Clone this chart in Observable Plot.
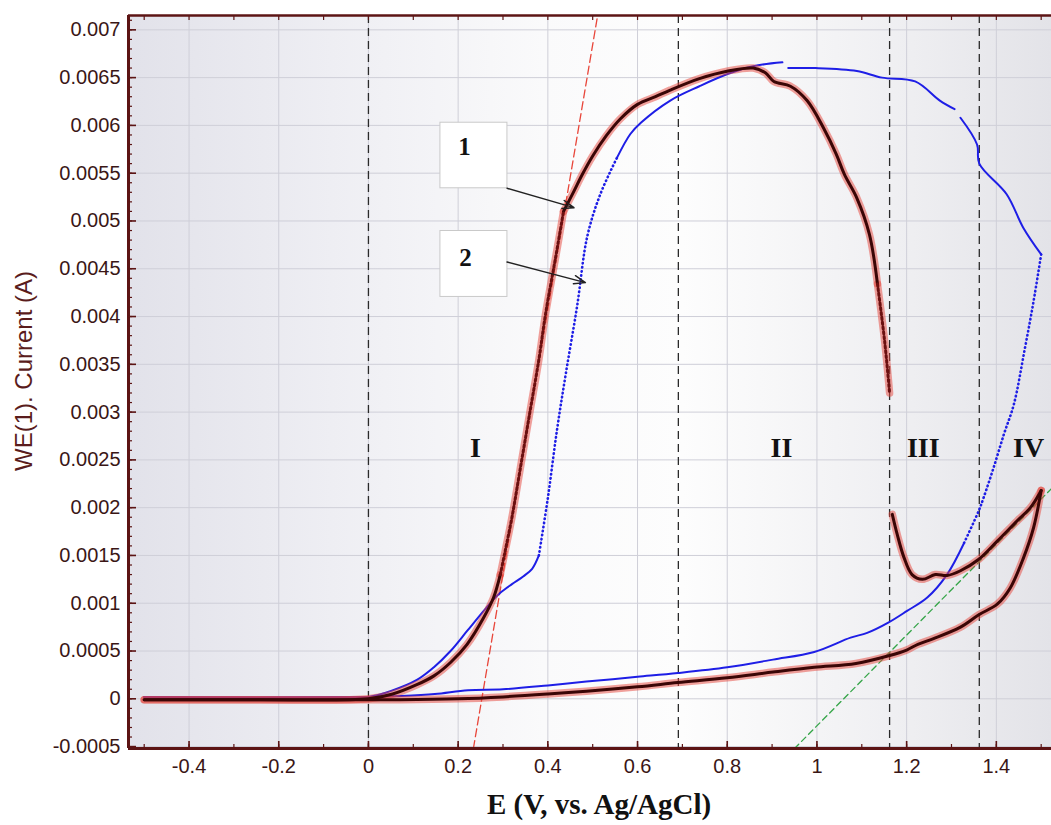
<!DOCTYPE html>
<html>
<head>
<meta charset="utf-8">
<script src="https://cdn.jsdelivr.net/npm/d3@7"></script>
<script src="https://cdn.jsdelivr.net/npm/@observablehq/plot@0.6"></script>
<style>
  body { margin: 0; background: #fff; }
  #chart svg { display: block; }
</style>
</head>
<body>
<div id="chart"></div>
<script>
// Axis extents and tick values
const xDomain = [-0.535, 1.523];
const yDomain = [-0.00052, 0.00715];
const xTickValues = [-0.4, -0.2, 0, 0.2, 0.4, 0.6, 0.8, 1, 1.2, 1.4];
const yTickValues = [-0.0005, 0, 0.0005, 0.001, 0.0015, 0.002, 0.0025, 0.003, 0.0035,
  0.004, 0.0045, 0.005, 0.0055, 0.006, 0.0065, 0.007];
const xTitle = "E (V, vs. Ag/AgCl)";
const yTitle = "WE(1). Current (A)";

// Curve 1 (E, I) — forward sweep then return sweep
const c1Start = [[-0.5, -0.00001], [-0.25, -0.00001], [0, 0], [0.054, 0.00005], [0.109, 0.00015],
  [0.146, 0.00024], [0.183, 0.00038], [0.22, 0.00057], [0.257, 0.00085], [0.279, 0.00106], [0.294, 0.0013]];
const c1Steep = [[0.294, 0.0013], [0.305, 0.00155], [0.32, 0.0019], [0.34, 0.00245], [0.36, 0.003],
  [0.38, 0.00355], [0.395, 0.00403], [0.417, 0.00461], [0.435, 0.0051]];
const c1Top = [[0.435, 0.0051], [0.458, 0.00531], [0.475, 0.00547], [0.5, 0.00568], [0.53, 0.00589],
  [0.562, 0.00607], [0.6, 0.00622], [0.64, 0.0063], [0.673, 0.00637], [0.738, 0.00649], [0.802, 0.00657],
  [0.858, 0.0066], [0.885, 0.00655], [0.904, 0.00646], [0.941, 0.00641], [0.978, 0.00626], [1.015, 0.00597],
  [1.043, 0.0057], [1.061, 0.00549], [1.089, 0.00524], [1.117, 0.00486], [1.135, 0.00434]];
const c1Drop = [[1.135, 0.00434], [1.151, 0.00374], [1.162, 0.0032]];
const c1Film = [[1.168, 0.00193], [1.179, 0.00172], [1.194, 0.00148], [1.212, 0.0013], [1.235, 0.00125],
  [1.264, 0.0013], [1.29, 0.00129], [1.32, 0.00134], [1.361, 0.00146], [1.402, 0.00165], [1.446, 0.00186],
  [1.476, 0.002], [1.5, 0.00218]];
const c1Return = [[1.5, 0.00218], [1.483, 0.00179], [1.461, 0.00148], [1.431, 0.00116], [1.402, 0.00099],
  [1.361, 0.00088], [1.32, 0.00075], [1.26, 0.00063], [1.225, 0.00057], [1.2, 0.00051], [1.16, 0.00045],
  [1.087, 0.00037], [0.994, 0.00033], [0.902, 0.00028], [0.8, 0.00022], [0.69, 0.00017], [0.6, 0.000126],
  [0.486, 0.00008], [0.4, 0.00005], [0.3, 0.00002], [0.2, 0], [0.07, -0.00001], [0, -0.00001], [-0.5, -0.00001]];

// Curve 2 (E, I)
const c2Start = [[-0.5, 0.00002], [0, 0.00002], [0.049, 0.00008], [0.109, 0.0002], [0.146, 0.00033],
  [0.183, 0.0005], [0.22, 0.00071], [0.257, 0.00092], [0.279, 0.00104], [0.294, 0.00111], [0.32, 0.0012],
  [0.345, 0.00128], [0.365, 0.00136], [0.38, 0.0015]];
const c2Steep = [[0.38, 0.0015], [0.4, 0.0021], [0.42, 0.0028], [0.44, 0.0034], [0.465, 0.0041],
  [0.488, 0.00484], [0.517, 0.00528], [0.554, 0.00566]];
const c2Top = [[0.554, 0.00566], [0.584, 0.00591], [0.608, 0.00603], [0.673, 0.00626], [0.738, 0.00641],
  [0.802, 0.00654], [0.858, 0.00662], [0.923, 0.00666]];
const c2Plateau = [[0.936, 0.0066], [0.997, 0.0066], [1.089, 0.00657], [1.145, 0.0065], [1.219, 0.00646],
  [1.274, 0.00626], [1.307, 0.00617]];
const c2Decay = [[1.32, 0.00608], [1.357, 0.0058], [1.362, 0.0056], [1.423, 0.00528], [1.46, 0.00493],
  [1.5, 0.00465]];
const c2Fall = [[1.5, 0.00465], [1.483, 0.00416], [1.463, 0.00365], [1.439, 0.00308], [1.417, 0.00277],
  [1.394, 0.00242], [1.372, 0.00211], [1.361, 0.00197], [1.327, 0.00162]];
const c2Return = [[1.327, 0.00162], [1.29, 0.0013], [1.246, 0.00106], [1.201, 0.00092], [1.16, 0.0008],
  [1.112, 0.00069], [1.075, 0.00064], [0.994, 0.00049], [0.902, 0.00041], [0.8, 0.00033], [0.69, 0.00027],
  [0.6, 0.00023], [0.486, 0.00018], [0.4, 0.00014], [0.3, 0.0001], [0.222, 0.00009], [0.148, 0.00005],
  [0.074, 0.00003], [0, 0.00002], [-0.5, 0.00002]];

// Tangent constructions
const tangentRise = [[0.234, -0.00052], [0.511, 0.00715]];
const tangentFilm = [[0.95, -0.00052], [1.523, 0.0022]];

// Potential regions
const regionBounds = [0, 0.691, 1.162, 1.362];
const regionNames = ["I", "II", "III", "IV"];
const regionCenters = [0.2386, 0.921, 1.237, 1.472];
const regionLabelY = 0.00262;

// Curve callouts
const calloutNames = ["1", "2"];
const calloutBoxX = [0.1605, 0.3099];
const calloutBoxY = [[0.005342, 0.006028], [0.004205, 0.004895]];
const calloutTextAt = [[0.214, 0.005769], [0.2163, 0.004616]];
const calloutArrowFrom = [[0.309, 0.005342], [0.309, 0.004571]];
const calloutArrowTo = [[0.4583, 0.005139], [0.4838, 0.004355]];

// Build rows
const rows = (pts, seg) => pts.map(([x, y]) => ({x, y, seg}));
const curve1Solid = [...rows(c1Start, "a"), ...rows(c1Top, "c"), ...rows(c1Film, "e"), ...rows(c1Return, "f")];
const curve1Dotted = [...rows(c1Steep, "b"), ...rows(c1Drop, "d")];
const curve1All = [...curve1Solid, ...curve1Dotted];
const curve2Solid = [...rows(c2Start, "a"), ...rows(c2Top, "c"), ...rows(c2Plateau, "d"),
  ...rows(c2Decay, "e"), ...rows(c2Return, "g")];
const curve2Dotted = [...rows(c2Steep, "b"), ...rows(c2Fall, "f")];

const regions = regionNames.map((name, i) => ({name, x: regionCenters[i], y: regionLabelY}));
const callouts = calloutNames.map((name, i) => ({
  name,
  x1: calloutBoxX[0], x2: calloutBoxX[1], y1: calloutBoxY[i][0], y2: calloutBoxY[i][1],
  tx: calloutTextAt[i][0], ty: calloutTextAt[i][1],
  ax1: calloutArrowFrom[i][0], ay1: calloutArrowFrom[i][1],
  ax2: calloutArrowTo[i][0], ay2: calloutArrowTo[i][1]
}));

const xMinorTicks = d3.range(-5, 16).map(i => i / 10);
const yMinorTicks = d3.range(-5, 72).map(i => i / 10000);
const fmt = d => String(+d.toFixed(4));
const axisColor = "#5c1414";
const serif = "'Liberation Serif', 'Times New Roman', serif";

const chart = Plot.plot({
  width: 1051,
  height: 825,
  marginLeft: 128,
  marginRight: 0,
  marginTop: 15,
  marginBottom: 77,
  x: {domain: xDomain, label: null},
  y: {domain: yDomain, label: null},
  style: {
    fontFamily: "'Liberation Sans', Arial, sans-serif",
    fontSize: "20px",
    color: "#3a1616",
    background: "#fff"
  },
  marks: [
    Plot.frame({fill: "url(#plotBg)"}),
    Plot.gridX(xTickValues, {stroke: "#cfcfd8", strokeOpacity: 1}),
    Plot.gridY(yTickValues, {stroke: "#cfcfd8", strokeOpacity: 1}),
    Plot.ruleX(regionBounds, {stroke: "#2a2a2a", strokeWidth: 1.3, strokeDasharray: "8,5"}),
    Plot.line(tangentRise, {x: d => d[0], y: d => d[1], stroke: "#e8463a", strokeWidth: 1.3, strokeDasharray: "8,4"}),
    Plot.line(tangentFilm, {x: d => d[0], y: d => d[1], stroke: "#35a548", strokeWidth: 1.3, strokeDasharray: "6,4"}),
    // curve 2
    Plot.line(curve2Solid, {x: "x", y: "y", z: "seg", stroke: "#1e1ee6", strokeWidth: 2, curve: "catmull-rom"}),
    Plot.line(curve2Dotted, {x: "x", y: "y", z: "seg", stroke: "#1e1ee6", strokeWidth: 2.6,
      strokeLinecap: "round", strokeDasharray: "0.5,3.6", curve: "catmull-rom"}),
    // curve 1: red glow under a dark core
    Plot.line(curve1All, {x: "x", y: "y", z: "seg", stroke: "#e6443a", strokeOpacity: 0.5, strokeWidth: 7.5, curve: "catmull-rom"}),
    Plot.line(curve1Solid, {x: "x", y: "y", z: "seg", stroke: "#3a0606", strokeWidth: 3, curve: "catmull-rom"}),
    Plot.line(curve1Dotted, {x: "x", y: "y", z: "seg", stroke: "#6a1010", strokeWidth: 3,
      strokeDasharray: "2.2,2.6", curve: "catmull-rom"}),
    // callouts
    Plot.rect(callouts, {x1: "x1", x2: "x2", y1: "y1", y2: "y2", fill: "#fff", stroke: "#c9c9c9", strokeWidth: 1}),
    Plot.text(callouts, {x: "tx", y: "ty", text: "name", fontSize: 25, fontWeight: "bold", fontFamily: serif, fill: "#111"}),
    Plot.arrow(callouts, {x1: "ax1", y1: "ay1", x2: "ax2", y2: "ay2", stroke: "#222", strokeWidth: 1.4, headLength: 13, headAngle: 40}),
    // region labels
    Plot.text(regions, {x: "x", y: "y", text: "name", fontSize: 28, fontWeight: "bold", fontFamily: serif, fill: "#111"}),
    // axes
    Plot.ruleX([xDomain[0]], {stroke: axisColor, strokeWidth: 3}),
    Plot.ruleY([yDomain[0]], {stroke: axisColor, strokeWidth: 3}),
    Plot.ruleY([yDomain[1]], {stroke: axisColor, strokeWidth: 2.5}),
    Plot.axisY(yTickValues, {tickSize: -8, fill: "none", stroke: axisColor, strokeWidth: 1.6, label: null}),
    Plot.axisY(yMinorTicks, {tickSize: -4, fill: "none", stroke: axisColor, strokeWidth: 1.2, label: null}),
    Plot.axisY(yTickValues, {tickSize: 0, tickPadding: 8, tickFormat: fmt, label: null}),
    Plot.axisX(xTickValues, {tickSize: -7, fill: "none", stroke: axisColor, strokeWidth: 1.6, label: null}),
    Plot.axisX(xMinorTicks, {tickSize: -4, fill: "none", stroke: axisColor, strokeWidth: 1.2, label: null}),
    Plot.axisX(xTickValues, {tickSize: 0, tickPadding: 10, tickFormat: fmt, label: null}),
    Plot.axisX(xMinorTicks, {anchor: "top", tickSize: -4, fill: "none", stroke: axisColor, strokeWidth: 1.2, label: null}),
    // titles
    Plot.text([yTitle], {text: d => d, frameAnchor: "left", textAnchor: "middle", rotate: -90, dx: -104, dy: -11,
      fontSize: 24, fill: "#5a1c1c"}),
    Plot.text([xTitle], {text: d => d, frameAnchor: "bottom", dy: 56, dx: 9, fontSize: 29, fontWeight: "bold",
      fontFamily: serif, fill: "#111", lineAnchor: "middle"})
  ]
});

// soft horizontal shading of the plotting area
const svg = d3.select(chart);
const grad = svg.insert("defs", ":first-child").append("linearGradient")
  .attr("id", "plotBg").attr("x1", "0").attr("x2", "1").attr("y1", "0").attr("y2", "0");
[[0, "#e2e2ea"], [0.22, "#eeeef3"], [0.45, "#fafafb"], [0.6, "#fdfdfd"], [0.85, "#eeeef1"], [1, "#e3e3e8"]]
  .forEach(([o, c]) => grad.append("stop").attr("offset", o).attr("stop-color", c));

document.getElementById("chart").appendChild(chart);
</script>
</body>
</html>
